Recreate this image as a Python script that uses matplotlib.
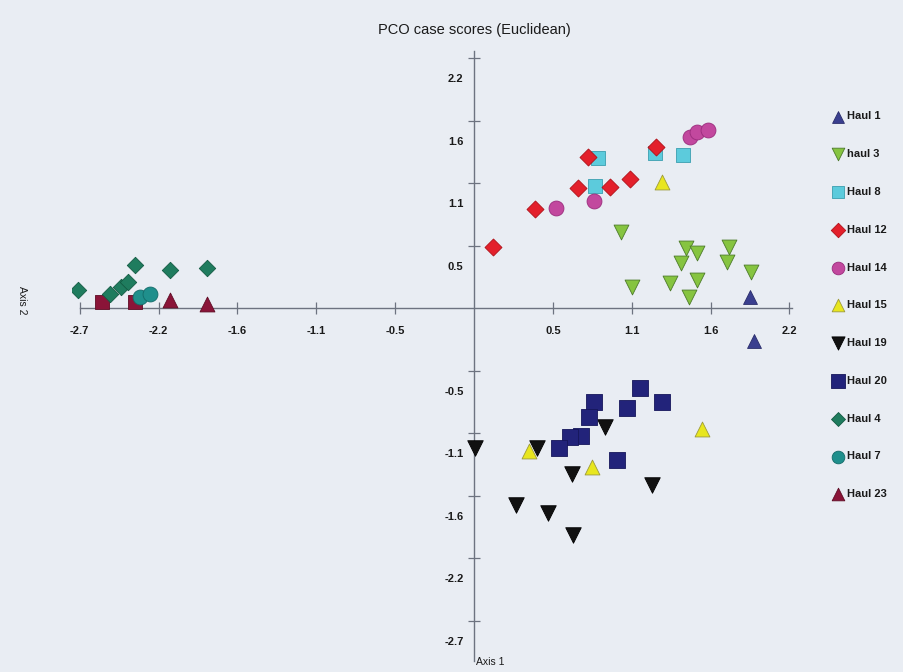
import matplotlib
matplotlib.use("Agg")
import matplotlib.pyplot as plt
from matplotlib.transforms import ScaledTranslation

plt.rcParams['font.family'] = ['Liberation Sans', 'DejaVu Sans']

# ---- data ----
haul1_x = [1.89, 1.92]
haul1_y = [0.10, -0.28]

haul3_x = [1.01, 1.08, 1.34, 1.45, 1.42, 1.53, 1.53, 1.47, 1.75, 1.73, 1.90]
haul3_y = [0.66, 0.18, 0.22, 0.52, 0.39, 0.48, 0.24, 0.10, 0.53, 0.40, 0.31]

haul8_x = [0.85, 0.83, 1.43, 1.24]
haul8_y = [1.30, 1.06, 1.32, 1.34]

haul12_x = [0.13, 0.42, 0.71, 0.78, 0.93, 1.07, 1.25]
haul12_y = [0.53, 0.86, 1.04, 1.31, 1.05, 1.12, 1.39]

haul14_x = [0.56, 0.82, 1.48, 1.53, 1.60]
haul14_y = [0.87, 0.93, 1.48, 1.52, 1.54]

haul15_x = [1.29, 0.38, 0.81, 1.56]
haul15_y = [1.09, -1.23, -1.37, -1.04]

haul19_x = [0.01, 0.43, 0.90, 0.67, 1.22, 0.29, 0.51, 0.68]
haul19_y = [-1.21, -1.21, -1.03, -1.43, -1.53, -1.70, -1.77, -1.96]

haul20_x = [1.14, 1.29, 0.82, 1.05, 0.79, 0.73, 0.66, 0.58, 0.98]
haul20_y = [-0.69, -0.81, -0.81, -0.86, -0.94, -1.10, -1.11, -1.21, -1.31]

haul4_x = [-2.71, -2.49, -2.42, -2.37, -2.32, -2.08, -1.83]
haul4_y = [0.16, 0.12, 0.18, 0.23, 0.37, 0.33, 0.35]

haul7_x = [-2.29, -2.22]
haul7_y = [0.10, 0.12]

haul23_x = [-2.08, -1.83]
haul23_y = [0.07, 0.035]

haul23b_x = [-2.55, -2.32]
haul23b_y = [0.05, 0.05]

x_ticks = [-2.7, -2.16, -1.62, -1.08, -0.54, 0.54, 1.08, 1.62, 2.16]
x_labels = ['-2.7', '-2.2', '-1.6', '-1.1', '-0.5', '0.5', '1.1', '1.6', '2.2']
y_ticks = [2.16, 1.62, 1.08, 0.54, -0.54, -1.08, -1.62, -2.16, -2.7]
y_labels = ['2.2', '1.6', '1.1', '0.5', '-0.5', '-1.1', '-1.6', '-2.2', '-2.7']

# ---- figure ----
bg = '#e9edf3'
fig = plt.figure(figsize=(9.04, 6.72), dpi=100, facecolor=bg)
ax = fig.add_axes([72.5 / 904, 5 / 672, 737.3 / 904, 625 / 672])
ax.set_facecolor(bg)
ax.set_xlim(-2.75, 2.3)
ax.set_ylim(-3.1, 2.3)

series = [
    (haul1_x, haul1_y, '^', '#3a3f8f', '#2a2d6a', 'Haul 1', 100),
    (haul3_x, haul3_y, 'v', '#86c440', '#4c7a2a', 'haul 3', 115),
    (haul8_x, haul8_y, 's', '#5ccbdc', '#3a9fb0', 'Haul 8', 115),
    (haul12_x, haul12_y, 'D', '#e3202b', '#b01018', 'Haul 12', 75),
    (haul14_x, haul14_y, 'o', '#c2489e', '#9a2c7c', 'Haul 14', 115),
    (haul15_x, haul15_y, '^', '#e8e61e', '#9c9a3a', 'Haul 15', 115),
    (haul19_x, haul19_y, 'v', '#111111', '#000000', 'Haul 19', 125),
    (haul20_x, haul20_y, 's', '#22237a', '#15165a', 'Haul 20', 125),
    (haul4_x, haul4_y, 'D', '#1f7c5e', '#135a42', 'Haul 4', 70),
    (haul7_x, haul7_y, 'o', '#1f8f8c', '#136a68', 'Haul 7', 115),
    (haul23_x, haul23_y, '^', '#8a1438', '#5e0c24', 'Haul 23', 115),
]

# unlabelled dark-red squares in the left cluster
ax.scatter(haul23b_x, haul23b_y, marker='s', s=100, c='#8a1438',
           edgecolors='#5e0c24', linewidths=0.6, zorder=3, label='_nolegend_')

handles = []
for xs, ys, m, fc, ec, lab, s in series:
    h = ax.scatter(xs, ys, marker=m, s=s, c=fc, edgecolors=ec,
                   linewidths=0.6, zorder=3, label=lab)
    handles.append(h)

# spines through the origin
for side in ['top', 'right']:
    ax.spines[side].set_visible(False)
ax.spines['left'].set_position(('data', 0))
ax.spines['bottom'].set_position(('data', 0))
ax.spines['left'].set_bounds(-3.05, 2.22)
ax.spines['bottom'].set_bounds(-2.7, 2.18)
for side in ['left', 'bottom']:
    ax.spines[side].set_color('#6d7380')
    ax.spines[side].set_linewidth(1.0)

ax.set_xticks(x_ticks)
ax.set_xticklabels(x_labels)
ax.set_yticks(y_ticks)
ax.set_yticklabels(y_labels)
ax.tick_params(axis='both', direction='inout', length=9, width=0.9,
               colors='#6d7380', labelcolor='#1a1a1a', labelsize=8)
ax.tick_params(axis='x', pad=8)
ax.tick_params(axis='y', pad=3)
for lab in ax.get_xticklabels() + ax.get_yticklabels():
    lab.set_fontweight('bold')
offset = ScaledTranslation(0, -20 / 100, fig.dpi_scale_trans)
for lab in ax.get_yticklabels():
    lab.set_transform(lab.get_transform() + offset)

# titles / axis labels
fig.text(474 / 904, 1 - 30 / 672, 'PCO case scores (Euclidean)',
         ha='center', va='center', fontsize=10.5, color='#1a1a1a')
fig.text(490 / 904, 1 - 662 / 672, 'Axis 1', ha='center', va='center',
         fontsize=7.5, color='#1a1a1a')
fig.text(22 / 904, 1 - 300 / 672, 'Axis 2', ha='center', va='center',
         fontsize=7.5, color='#1a1a1a', rotation=270)

leg = fig.legend(handles=handles, loc='upper left',
                 bbox_to_anchor=(829 / 904, 1 - 107 / 672),
                 frameon=False, fontsize=8, labelspacing=2.5,
                 handlelength=0.9, handletextpad=0.3, borderaxespad=0,
                 markerscale=0.85)
for t in leg.get_texts():
    t.set_fontweight('bold')
    t.set_color('#1a1a1a')

fig.savefig('out.png', dpi=100, facecolor=bg)
